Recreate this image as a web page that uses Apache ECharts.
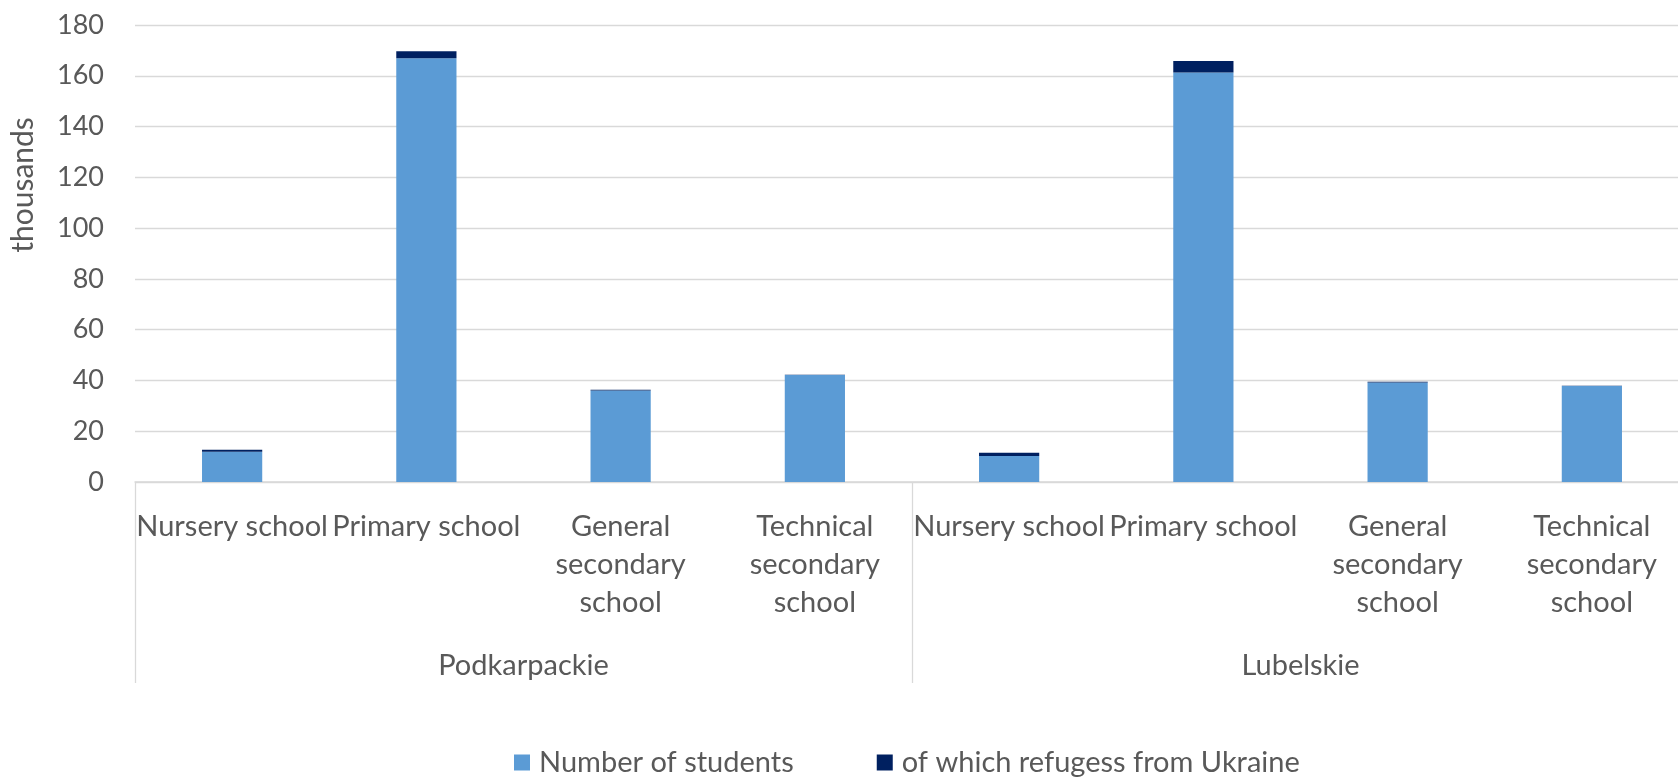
<!DOCTYPE html>
<html>
<head>
<meta charset="utf-8">
<script src="https://cdn.jsdelivr.net/npm/echarts@6/dist/echarts.min.js"></script>
<style>
  html, body { margin: 0; padding: 0; background: #fff; }
  #chart { width: 1678px; height: 779px; }
</style>
</head>
<body>
<div id="chart"></div>
<script>
// School types (inner axis level) and regions (outer axis level)
const schoolTypes = ['Nursery school', 'Primary school', 'General\nsecondary\nschool', 'Technical\nsecondary\nschool'];
const regions = ['Podkarpackie', 'Lubelskie'];

// Values in thousands, per region, in schoolTypes order
const studentsPodkarpackie = [11.9, 166.9, 36.0, 42.1];
const studentsLubelskie = [10.2, 161.3, 39.2, 37.8];
const refugeesPodkarpackie = [0.8, 2.8, 0.3, 0.1];
const refugeesLubelskie = [1.3, 4.5, 0.3, 0.1];

const yTicks = { min: 0, max: 180, interval: 20 };

const categories = regions.flatMap(() => schoolTypes);
const students = studentsPodkarpackie.concat(studentsLubelskie);
const refugees = refugeesPodkarpackie.concat(refugeesLubelskie);

const FONT = 'Lato, "Liberation Sans", sans-serif';
const TEXT = '#595959';
const GRID = '#d9d9d9';
const LABEL_SIZE = 29;

const chart = echarts.init(document.getElementById('chart'), null, { renderer: 'canvas' });
chart.setOption({
  animation: false,
  textStyle: { fontFamily: FONT },
  // plot area runs slightly past the right edge of the canvas
  grid: {
    left: 135, width: 1554, top: 25, bottom: 297,
    containLabel: false, outerBoundsMode: 'none'
  },
  legend: {
    left: 514, top: 748, padding: 0,
    icon: 'rect', itemWidth: 16, itemHeight: 16, itemGap: 83,
    textStyle: { fontFamily: FONT, fontSize: LABEL_SIZE, color: TEXT, padding: [0, 0, 0, 4] },
    data: ['Number of students', 'of which refugess from Ukraine']
  },
  graphic: [{
    type: 'text',
    x: 23, y: 185,
    rotation: Math.PI / 2,
    style: {
      text: 'thousands', fontFamily: FONT, fontSize: 30, fill: TEXT,
      textAlign: 'center', textVerticalAlign: 'middle'
    }
  }],
  xAxis: [
    {
      type: 'category',
      data: categories,
      position: 'bottom',
      axisLine: { show: true, lineStyle: { color: GRID, width: 1.5 } },
      axisTick: { show: false },
      axisLabel: {
        interval: 0, margin: 26, color: TEXT, fontFamily: FONT, fontSize: LABEL_SIZE,
        lineHeight: 38, align: 'center'
      }
    },
    {
      type: 'category',
      data: regions,
      position: 'bottom',
      offset: 0,
      axisLine: { show: false },
      axisTick: { show: true, length: 201, lineStyle: { color: GRID, width: 1.3 } },
      axisLabel: { interval: 0, margin: 169, color: TEXT, fontFamily: FONT, fontSize: LABEL_SIZE },
      splitLine: { show: false }
    }
  ],
  yAxis: {
    type: 'value',
    min: yTicks.min, max: yTicks.max, interval: yTicks.interval,
    axisLine: { show: false },
    axisTick: { show: false },
    axisLabel: { margin: 31, color: TEXT, fontFamily: FONT, fontSize: 27 },
    splitLine: { lineStyle: { color: GRID, width: 1.3 } }
  },
  series: [
    {
      name: 'Number of students',
      type: 'bar',
      stack: 'total',
      xAxisIndex: 0,
      barWidth: '31%',
      itemStyle: { color: '#5B9BD5' },
      data: students
    },
    {
      name: 'of which refugess from Ukraine',
      type: 'bar',
      stack: 'total',
      xAxisIndex: 0,
      barWidth: '31%',
      itemStyle: { color: '#002060' },
      data: refugees
    }
  ]
});
</script>
</body>
</html>
